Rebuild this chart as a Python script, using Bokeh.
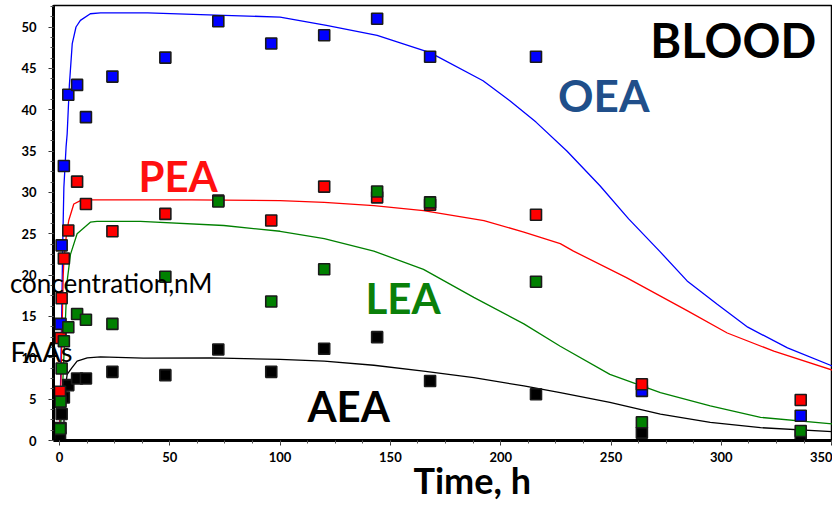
from bokeh.plotting import figure
from bokeh.models import (Label, Range1d, SingleIntervalTicker, FixedTicker, ColumnDataSource,
                          Title, LinearAxis)
from bokeh.embed import file_html
from bokeh.resources import INLINE

# ---- measured data (time, h ; concentration, nM) ----
t_obs = [0.25, 0.5, 1, 2, 4, 8, 12, 24, 48, 72, 96, 120, 144, 168, 216, 264, 336]
oea_obs = [5.5, 14.1, 23.6, 33.2, 41.8, 43.0, 39.1, 44.0, 46.3, 50.7, 48.0, 49.0, 51.0, 46.4, 46.4, 6.0, 3.0]
pea_obs = [5.9, 12.4, 17.2, 22.0, 25.4, 31.3, 28.6, 25.3, 27.4, 29.0, 26.6, 30.7, 29.4, 28.5, 27.3, 6.8, 4.9]
lea_obs = [1.4, 4.7, 8.7, 12.0, 13.7, 15.3, 14.6, 14.1, 19.8, 28.9, 16.8, 20.7, 30.1, 28.8, 19.2, 2.2, 1.15]
aea_obs = [0.3, 1.5, 3.2, 5.2, 6.7, 7.5, 7.5, 8.3, 7.9, 11.0, 8.3, 11.1, 12.5, 7.2, 5.6, 0.95, 0.7]

# ---- model curves ----
oea_t = [0, 0.5, 1, 1.5, 2, 3, 3.5, 4.5, 5.8, 7.5, 9.5, 14, 18.6, 40, 64, 100, 121, 144, 168, 192, 204,
         216, 230, 245, 258, 272, 284.5, 298, 312, 330, 350.4]
oea_fit = [0, 7, 15, 24, 30.6, 35.5, 37.1, 43, 48, 50, 50.8, 51.6, 51.7, 51.7, 51.5, 51.2, 50.2, 49.0, 46.9, 43.5, 41.1,
           38.5, 35.0, 30.8, 26.8, 22.9, 19.3, 16.5, 13.7, 11.2, 9.0]
pea_t = [0, 0.5, 1, 1.7, 2, 3, 4.2, 6.5, 9.5, 11, 14, 60, 100, 120, 142.5, 165, 192.4, 210.5, 227, 233, 257,
         284.5, 302.7, 323.8, 350.4]
pea_fit = [0, 5, 11, 19.9, 21.7, 24.5, 26.6, 28.6, 29.0, 29.1, 29.1, 29.1, 29.0, 28.8, 28.4, 27.8, 26.6, 25.2, 23.8,
           22.9, 19.7, 15.7, 13.0, 10.8, 8.5]
lea_t = [0, 0.5, 1, 2, 3, 3.5, 5, 8, 14, 17, 36.7, 74.5, 100, 120, 142.5, 165, 187.8, 210.5, 227, 249.5, 272.4,
         295, 317.8, 350.4]
lea_fit = [0, 1.5, 4, 10, 16.5, 19.3, 22.5, 25.0, 26.4, 26.5, 26.5, 26.0, 25.3, 24.4, 22.9, 20.7, 17.3, 14.1, 11.4,
           8.0, 5.8, 4.2, 2.8, 2.0]
aea_t = [0, 1, 2, 2.7, 3.5, 5.7, 8, 12.6, 18.6, 38, 68.5, 100, 120, 142.5, 165, 187.8, 210.5, 227, 249.5, 272.4,
         295, 317.8, 350.4]
aea_fit = [0, 0.5, 2, 6.5, 8.0, 8.8, 9.6, 10.0, 10.1, 9.95, 10.0, 9.8, 9.6, 9.1, 8.4, 7.6, 6.6, 5.8, 4.6, 3.2,
           2.2, 1.55, 1.07]

x_ticks_interval = 50
y_ticks_interval = 5

FONT = "Lato"

p = figure(width=832, height=516, output_backend="svg", toolbar_location=None,
           x_range=Range1d(-2.7, 350.4), y_range=Range1d(0, 52.6),
           min_border_left=53, min_border_right=0, min_border_top=5, min_border_bottom=76)
p.background_fill_color = "white"
p.border_fill_color = "white"
p.outline_line_color = "black"
p.outline_line_width = 1.5
p.xgrid.visible = False
p.ygrid.visible = False

for ax, iv in ((p.xaxis[0], x_ticks_interval), (p.yaxis[0], y_ticks_interval)):
    ax.ticker = SingleIntervalTicker(interval=iv, num_minor_ticks=4)
    ax.axis_line_width = 3
    ax.axis_line_color = "black"
    ax.major_tick_in = 0
    ax.major_tick_out = 5
    ax.minor_tick_in = 0
    ax.minor_tick_out = 3
    ax.major_tick_line_color = "#333333"
    ax.minor_tick_line_color = "#555555"
    ax.major_label_text_font = FONT
    ax.major_label_text_font_size = "13px"
    ax.major_label_text_font_style = "bold"
    ax.major_label_text_color = "black"
p.yaxis.major_label_standoff = 12
p.xaxis.major_label_standoff = 6

# curves
p.line(oea_t, oea_fit, line_color="#0000ff", line_width=1.3)
p.line(pea_t, pea_fit, line_color="#ff0000", line_width=1.3)
p.line(lea_t, lea_fit, line_color="#008000", line_width=1.3)
p.line(aea_t, aea_fit, line_color="#000000", line_width=1.3)

# points (draw order: AEA, OEA, PEA, LEA)
for vals, col in ((aea_obs, "#000000"), (oea_obs, "#0000ff"), (pea_obs, "#ff0000"), (lea_obs, "#008000")):
    src = ColumnDataSource(dict(t=t_obs, v=vals))
    p.scatter("t", "v", source=src, marker="square", size=11, fill_color=col,
              line_color="#1a1a1a", line_width=1.6)

def lab(x, y, text, size, color="black", style="bold"):
    p.add_layout(Label(x=x, y=y, text=text, text_font=FONT, text_font_size=size,
                       text_color=color, text_font_style=style, text_align="left",
                       text_baseline="middle"))

lab(267.8, 48.4, "BLOOD", "47px")
lab(226.0, 41.77, "OEA", "44px", color="#204f8a")
lab(35.8, 31.96, "PEA", "42px", color="#ff1010")
lab(138.7, 17.19, "LEA", "42px", color="#0a800a")
lab(112.4, 4.12, "AEA", "42px")

# y-axis title pieces, drawn by extra (line-less) left axes so they are not clipped by the frame
def side_text(text, y_at, standoff, size):
    ax = LinearAxis(ticker=FixedTicker(ticks=[y_at], minor_ticks=[]),
                    major_label_overrides={y_at: text})
    ax.axis_line_color = None
    ax.major_tick_line_color = None
    ax.minor_tick_line_color = None
    ax.major_tick_in = 0
    ax.major_tick_out = 0
    ax.major_label_standoff = standoff
    ax.major_label_text_font = FONT
    ax.major_label_text_font_size = size
    ax.major_label_text_font_style = "normal"
    ax.major_label_text_color = "black"
    p.add_layout(ax, "left")

side_text("FAAs", 10.8, -54, "27px")
side_text("concentration,nM", 19, -205, "26px")

p.add_layout(Title(text="Time, h", align="left", offset=360, text_font=FONT,
                   text_font_size="36px", text_font_style="bold", text_color="black",
                   standoff=-14, vertical_align="top"), "below")

open("out.html", "w").write(file_html(p, INLINE))
